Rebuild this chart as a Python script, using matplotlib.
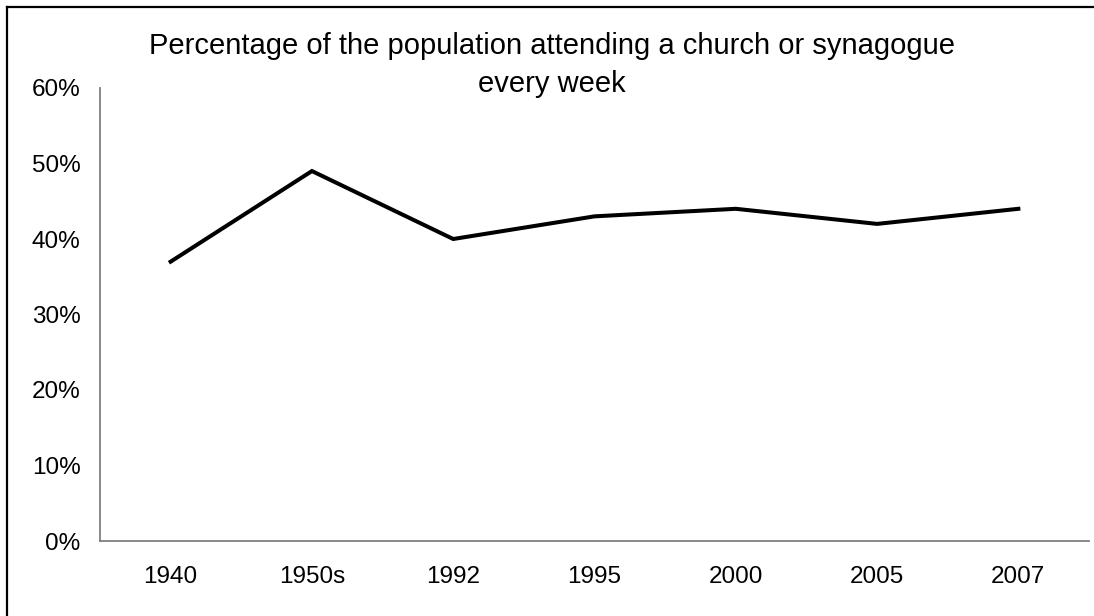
import matplotlib
matplotlib.use("Agg")
import matplotlib.pyplot as plt
from matplotlib.ticker import FuncFormatter
from matplotlib.lines import Line2D

categories = ["1940", "1950s", "1992", "1995", "2000", "2005", "2007"]
attendance = [0.37, 0.49, 0.40, 0.43, 0.44, 0.42, 0.44]
y_ticks = [0.0, 0.1, 0.2, 0.3, 0.4, 0.5, 0.6]
title = "Percentage of the population attending a church or synagogue\nevery week"

plt.rcParams['font.family'] = ['Liberation Sans', 'DejaVu Sans']

W, H = 1094, 616
fig = plt.figure(figsize=(W / 100, H / 100), dpi=100)
ax = fig.add_axes([100 / W, 1 - 541 / H, (1089 - 100) / W, (541 - 88) / H])

x = list(range(len(categories)))
ax.plot(x, attendance, color='black', lw=2.9, solid_joinstyle='miter')

ax.set_xlim(-0.5, len(categories) - 0.5)
ax.set_ylim(0, 0.6)
ax.set_yticks(y_ticks)
ax.yaxis.set_major_formatter(FuncFormatter(lambda v, p: f"{v*100:.0f}%"))
ax.set_xticks(x)
ax.set_xticklabels(categories)

for s in ['top', 'right']:
    ax.spines[s].set_visible(False)
for s in ['left', 'bottom']:
    ax.spines[s].set_color('#808080')
    ax.spines[s].set_linewidth(1.3)

ax.tick_params(axis='both', length=0, labelsize=17.5, colors='black')
ax.tick_params(axis='y', pad=14)
ax.tick_params(axis='x', pad=18)

fig.text(552 / W, 1 - 65 / H, title, ha='center', va='center', fontsize=21,
         linespacing=1.45)

# outer frame (top and left edges visible)
fig.add_artist(Line2D([6.5 / W, 1.0], [1 - 7 / H, 1 - 7 / H], color='black', lw=1.6,
                      transform=fig.transFigure))
fig.add_artist(Line2D([6.5 / W, 6.5 / W], [0, 1 - 7 / H], color='black', lw=1.6,
                      transform=fig.transFigure))

fig.savefig("out.png", dpi=100)
